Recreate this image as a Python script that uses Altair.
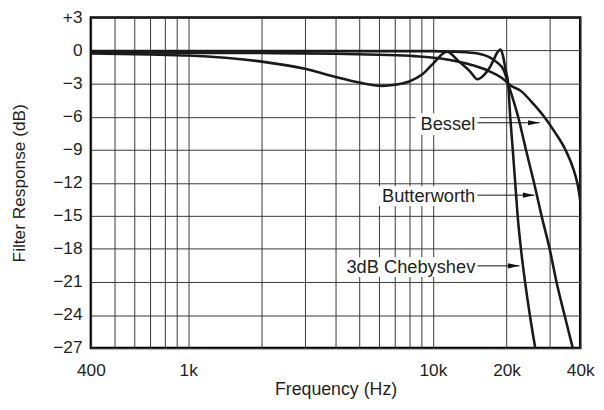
import altair as alt
import pandas as pd

# ---------------- data ----------------
series_names = ["Bessel", "Butterworth", "3dB Chebyshev"]

bessel_freq = [400, 1000, 2000, 4000, 6000, 8400, 11400, 14400, 17100, 19900, 20300,
               23000, 25200, 28500, 31500, 34800, 37700, 38900, 39500, 40000]
bessel_db = [-0.15, -0.2, -0.22, -0.28, -0.38, -0.5, -0.8, -1.3, -1.9, -2.8, -3.0,
             -3.7, -4.6, -6.0, -7.4, -9.0, -10.9, -12.0, -12.8, -13.6]

butter_freq = [400, 5000, 10000, 12000, 14000, 15600, 17000, 18100, 19500, 20300,
               22300, 24000, 25900, 27800, 30000, 32000, 34500, 37300]
butter_db = [-0.05, -0.05, -0.05, -0.1, -0.18, -0.3, -0.6, -1.0, -1.8, -3.0,
             -6.0, -9.0, -12.0, -15.0, -18.0, -21.0, -24.0, -27.0]

cheby_freq = [400, 700, 1000, 2000, 3000, 4000, 5000, 6200, 7000, 8000, 9000, 10000,
              11400, 12800, 14200, 15200, 16200, 17200, 17700, 18300, 18900, 19400,
              19800, 20300, 20700, 21200, 21700, 22200, 22900, 23800, 24900, 26200]
cheby_db = [-0.25, -0.35, -0.45, -1.0, -1.65, -2.4, -2.9, -3.2, -3.1, -2.8, -2.2, -1.2,
            -0.1, -1.0, -1.9, -2.6, -2.2, -1.4, -0.85, -0.2, 0.1, -0.6,
            -1.7, -3.0, -6.0, -9.0, -12.0, -15.0, -18.0, -21.0, -24.0, -27.0]

x_grid_values = [400, 500, 600, 700, 800, 900, 1000, 2000, 3000, 4000, 5000, 6000,
                 7000, 8000, 9000, 10000, 20000, 30000, 40000]
x_label_values = [400, 1000, 10000, 20000, 40000]
x_label_texts = ["400", "1k", "10k", "20k", "40k"]
y_values = [-27, -24, -21, -18, -15, -12, -9, -6, -3, 0, 3]

# annotations (data units)
ann_text = ["Bessel", "Butterworth", "3dB Chebyshev"]
ann_text_f = [14900, 14900, 14900]
ann_text_db = [-6.67, -13.18, -19.65]
ann_box_f1 = [8490, 6020, 4230]
ann_box_f2 = [15500, 15500, 15500]
ann_box_db1 = [-5.68, -12.31, -18.76]
ann_box_db2 = [-7.65, -14.10, -20.55]
ann_arrow_f1 = [15200, 15200, 15200]
ann_arrow_f2 = [27300, 26000, 22600]
ann_arrow_db = [-6.55, -13.12, -19.54]

# ---------------- tables ----------------
rows = []
for name, fs, ds in zip(series_names,
                        [bessel_freq, butter_freq, cheby_freq],
                        [bessel_db, butter_db, cheby_db]):
    for i, (f, d) in enumerate(zip(fs, ds)):
        rows.append({"series": name, "f": f, "db": d, "i": i})
curves = pd.DataFrame(rows)

ann = pd.DataFrame({
    "text": ann_text, "tf": ann_text_f, "tdb": ann_text_db,
    "bf1": ann_box_f1, "bf2": ann_box_f2, "bdb1": ann_box_db1, "bdb2": ann_box_db2,
    "af1": ann_arrow_f1, "af2": ann_arrow_f2, "adb": ann_arrow_db,
})

FONT = "Liberation Sans"
TXT = "#231f20"
GRID = "#383838"

label_expr = " : ".join(
    f"datum.value == {v} ? '{t}'" for v, t in zip(x_label_values, x_label_texts)
) + " : ''"

x_scale = alt.Scale(type="log", domain=[400, 40000], nice=False)
y_scale = alt.Scale(domain=[-27, 3], nice=False, zero=False)

x_axis = alt.Axis(
    values=x_grid_values, grid=True, gridColor=GRID, gridWidth=1,
    ticks=False, domain=False, labelExpr=label_expr, labelFlush=False,
    labelOverlap=False, labelFont=FONT, labelFontSize=17.5, labelColor=TXT,
    labelPadding=14, title="Frequency (Hz)", titleFont=FONT, titleFontSize=18,
    titleFontWeight="normal", titleColor=TXT, titleY=33,
)
y_axis = alt.Axis(
    values=y_values, grid=True, gridColor=GRID, gridWidth=1,
    ticks=False, domain=False,
    labelExpr="datum.value > 0 ? '+' + datum.label : datum.label",
    labelFont=FONT, labelFontSize=17.5, labelColor=TXT, labelPadding=9,
    labelOverlap=False, labelFlush=False,
    title="Filter Response (dB)", titleFont=FONT, titleFontSize=17.5,
    titleFontWeight="normal", titleColor=TXT, titleX=-67,
    titleBaseline="alphabetic",
)

lines = alt.Chart(curves).mark_line(
    color="#1a1a1a", strokeWidth=2.6, interpolate="monotone", clip=True
).encode(
    x=alt.X("f:Q", scale=x_scale, axis=x_axis),
    y=alt.Y("db:Q", scale=y_scale, axis=y_axis),
    detail="series:N",
    order="i:Q",
)

boxes = alt.Chart(ann).mark_rect(color="white").encode(
    x=alt.X("bf1:Q", scale=x_scale, axis=x_axis), x2="bf2:Q",
    y=alt.Y("bdb1:Q", scale=y_scale, axis=y_axis), y2="bdb2:Q",
)

texts = alt.Chart(ann).mark_text(
    align="right", baseline="middle", font=FONT, fontSize=18.5, color=TXT
).encode(
    x=alt.X("tf:Q", scale=x_scale, axis=x_axis),
    y=alt.Y("tdb:Q", scale=y_scale, axis=y_axis),
    text="text:N",
)

arrows = alt.Chart(ann).mark_rule(color="#111", strokeWidth=1).encode(
    x=alt.X("af1:Q", scale=x_scale, axis=x_axis), x2="af2:Q",
    y=alt.Y("adb:Q", scale=y_scale, axis=y_axis),
)

heads = alt.Chart(ann).mark_point(
    shape="M-1,-0.22L0,0L-1,0.22Z", size=548, filled=True, color="#111",
    opacity=1, strokeWidth=0
).encode(
    x=alt.X("af2:Q", scale=x_scale, axis=x_axis),
    y=alt.Y("adb:Q", scale=y_scale, axis=y_axis),
)

chart = alt.layer(lines, boxes, texts, arrows, heads).properties(
    width=496, height=335,
    autosize=alt.AutoSizeParams(type="none"),
    padding={"left": 84, "top": 7, "right": 16, "bottom": 52},
    background="white",
).configure_view(stroke="black", strokeWidth=2.5)

chart.save("out.html", embed_options={"renderer": "svg", "actions": False})
